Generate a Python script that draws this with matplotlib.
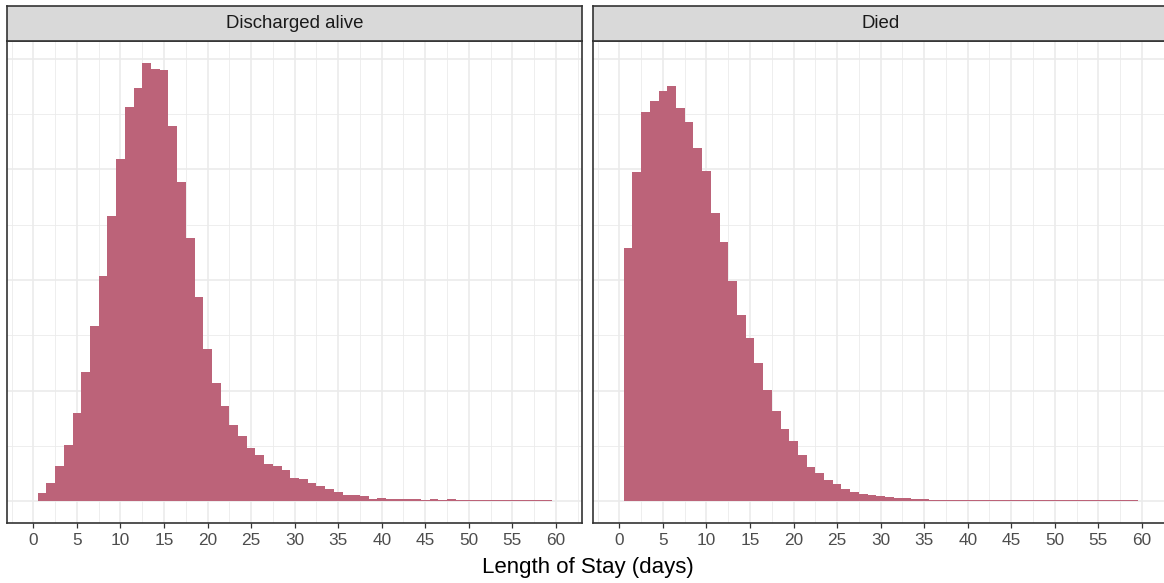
import matplotlib.pyplot as plt
from matplotlib.ticker import MultipleLocator
import numpy as np

plt.rcParams['font.family'] = ['Liberation Sans', 'DejaVu Sans']

# length of stay in days (bins of width 1)
days = np.arange(1, 60)
alive = [79, 169, 323, 513, 802, 1172, 1588, 2040, 2583, 3098,
         3568, 3740, 3966, 3912, 3903, 3396, 2890, 2384, 1850, 1380,
         1073, 865, 693, 594, 485, 422, 341, 323, 287, 214,
         205, 169, 142, 115, 88, 61, 61, 52, 24, 33,
         24, 24, 24, 24, 15, 24, 15, 24, 15, 15,
         15, 15, 15, 15, 15, 15, 15, 15, 15]
died = [2293, 2980, 3523, 3622, 3713, 3758, 3559, 3432, 3197, 2990,
        2610, 2348, 1995, 1688, 1480, 1254, 1010, 820, 657, 549,
        422, 314, 259, 196, 160, 115, 88, 70, 61, 52,
        42, 33, 33, 24, 24, 15, 15, 15, 15, 8,
        8, 8, 8, 8, 8, 8, 8, 8, 8, 8,
        8, 8, 8, 8, 8, 8, 8, 8, 8]
panels = ['Discharged alive', 'Died']
series = [alive, died]
xticks = np.arange(0, 61, 5)

W, H = 1164, 583
fig = plt.figure(figsize=(W / 100, H / 100), dpi=100)

bar_color = '#BC6379'
dark = '#333333'
ymax = max(max(alive), max(died))

lefts = [7.3, 593.3]
pw = 574.7
ptop, pbot = 40.7, 523.3
stop = 5.7

for left, name, vals in zip(lefts, panels, series):
    ax = fig.add_axes([left / W, (H - pbot) / H, pw / W, (pbot - ptop) / H])
    ax.bar(days, vals, width=1.0, color=bar_color, linewidth=0)
    ax.set_xlim(-3, 63)
    ax.set_ylim(-0.05 * ymax, 1.05 * ymax)
    ax.set_xticks(xticks)
    ax.xaxis.set_minor_locator(MultipleLocator(2.5))
    ax.yaxis.set_major_locator(MultipleLocator(1000))
    ax.yaxis.set_minor_locator(MultipleLocator(500))
    ax.set_axisbelow(True)
    ax.grid(which='major', color='#EBEBEB', linewidth=1.2)
    ax.grid(which='minor', color='#EBEBEB', linewidth=0.6)
    ax.tick_params(axis='x', which='major', length=3.3, width=0.9, color=dark,
                   labelsize=12.4, labelcolor='#4D4D4D', pad=4.0)
    ax.tick_params(axis='x', which='minor', length=0)
    ax.tick_params(axis='y', which='both', length=0, labelleft=False)
    for sp in ax.spines.values():
        sp.set_color(dark)
        sp.set_linewidth(1.2)

    # facet strip
    sax = fig.add_axes([left / W, (H - ptop) / H, pw / W, (ptop - stop) / H])
    sax.set_facecolor('#D9D9D9')
    sax.set_xticks([])
    sax.set_yticks([])
    for sp in sax.spines.values():
        sp.set_color(dark)
        sp.set_linewidth(1.2)
    sax.text(0.5, 0.5, name, transform=sax.transAxes, ha='center', va='center',
             fontsize=13.4, color='#1A1A1A')

fig.text((7.3 + 1168) / 2 / W, (H - 567.5) / H, 'Length of Stay (days)',
         ha='center', va='center', fontsize=16, color='black')

fig.savefig('out.png', dpi=100)
